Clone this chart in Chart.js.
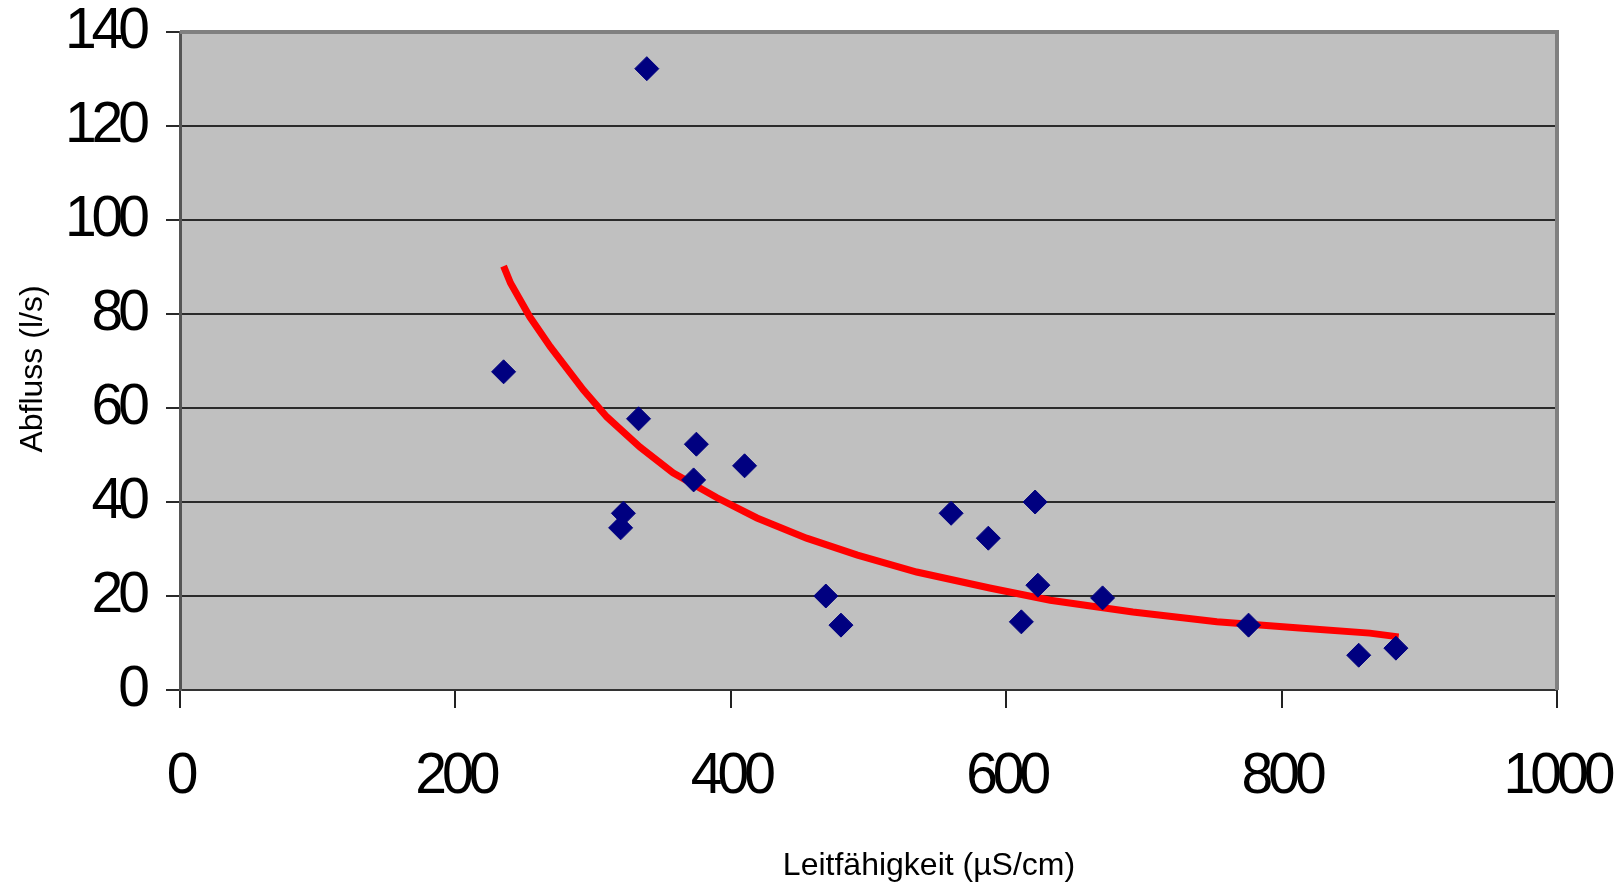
<!DOCTYPE html>
<html>
<head>
<meta charset="utf-8">
<script src="https://cdn.jsdelivr.net/npm/chart.js@4/dist/chart.umd.min.js"></script>
<style>
  html, body { margin: 0; padding: 0; background: #fff; }
  #wrap { width: 1623px; height: 886px; position: relative; }
</style>
</head>
<body>
<div id="wrap"><canvas id="c"></canvas></div>
<script>
// Messwerte: Leitfähigkeit (µS/cm) gegen Abfluss (l/s)
const leitfaehigkeit = [235, 339, 333, 322, 320, 375, 373, 410, 469, 480, 560, 587, 621, 623, 611, 670, 776, 856, 883];
const abfluss = [67.7, 132.2, 57.7, 37.6, 34.5, 52.3, 44.7, 47.7, 20.0, 13.8, 37.6, 32.3, 40.0, 22.3, 14.5, 19.6, 13.8, 7.4, 8.9];

// Trendlinie (Potenz)
const trendX = [235, 240, 254, 269, 293, 310, 334, 358, 390, 419, 455, 492, 535, 588, 632, 692, 753, 813, 864, 885];
const trendY = [90.2, 86.6, 79.4, 73.0, 63.8, 58.1, 51.7, 46.2, 40.9, 36.6, 32.3, 28.7, 25.1, 21.7, 19.1, 16.6, 14.5, 13.2, 12.1, 11.3];

const xTicks = [0, 200, 400, 600, 800, 1000];
const yTicks = [0, 20, 40, 60, 80, 100, 120, 140];

const tickFont = "'Liberation Sans', Arial, sans-serif";
const textFont = "'Liberation Sans', Arial, sans-serif";

const points = leitfaehigkeit.map((x, i) => ({ x, y: abfluss[i] }));
const trend = trendX.map((x, i) => ({ x, y: trendY[i] }));

function noPad(s) {
  s.paddingTop = 0; s.paddingBottom = 0; s.paddingLeft = 0; s.paddingRight = 0;
}

// grauer Plotbereich + Rahmen oben/rechts, Achsentitel
const plotArea = {
  id: 'plotArea',
  beforeDraw(chart) {
    const { ctx, chartArea: a } = chart;
    ctx.save();
    ctx.fillStyle = '#c0c0c0';
    ctx.fillRect(a.left, a.top, a.right - a.left, a.bottom - a.top);
    ctx.restore();
    // schmale Achsenschrift (wie Arial Narrow)
    ctx.letterSpacing = '-5px';
  },
  beforeDatasetsDraw(chart) {
    const { ctx, chartArea: a } = chart;
    ctx.save();
    ctx.strokeStyle = '#808080';
    ctx.lineWidth = 4;
    ctx.beginPath();
    ctx.moveTo(a.left, a.top);
    ctx.lineTo(a.right, a.top);
    ctx.lineTo(a.right, a.bottom);
    ctx.stroke();
    ctx.restore();
  },
  afterDraw(chart) {
    const { ctx } = chart;
    ctx.letterSpacing = '0px';
    ctx.save();
    ctx.fillStyle = '#000';
    ctx.font = '32px ' + textFont;
    ctx.textAlign = 'center';
    ctx.textBaseline = 'middle';
    ctx.fillText('Leitfähigkeit (µS/cm)', 929, 866);
    ctx.translate(33, 369);
    ctx.rotate(-Math.PI / 2);
    ctx.fillText('Abfluss (l/s)', 0, 0);
    ctx.restore();
  }
};

new Chart(document.getElementById('c'), {
  type: 'scatter',
  data: {
    datasets: [
      {
        label: 'Abfluss',
        data: points,
        pointStyle: 'rectRot',
        pointRadius: 12,
        backgroundColor: '#000080',
        borderColor: '#000080',
        borderWidth: 1,
        showLine: false
      },
      {
        label: 'Trend',
        type: 'line',
        data: trend,
        borderColor: '#ff0000',
        borderWidth: 7,
        pointRadius: 0,
        tension: 0,
        fill: false
      }
    ]
  },
  options: {
    responsive: true,
    maintainAspectRatio: false,
    devicePixelRatio: 1,
    animation: false,
    layout: { padding: { top: 32, right: 66, left: 0, bottom: 0 } },
    plugins: { legend: { display: false }, tooltip: { enabled: false } },
    scales: {
      x: {
        type: 'linear',
        min: 0, max: 1000,
        afterFit(s) { s.height = 196; noPad(s); },
        afterBuildTicks(s) { s.ticks = xTicks.map(v => ({ value: v })); },
        grid: { drawOnChartArea: false, drawTicks: true, tickLength: 18, color: '#222', lineWidth: 2 },
        border: { display: true, color: '#333', width: 2 },
        ticks: { color: '#000', padding: 35, maxRotation: 0, callback: v => String(v),
                 font: { family: tickFont, size: 57, lineHeight: 1.2 } }
      },
      y: {
        type: 'linear',
        min: 0, max: 140,
        afterFit(s) { s.width = 180; noPad(s); },
        afterBuildTicks(s) { s.ticks = yTicks.map(v => ({ value: v })); },
        grid: { drawTicks: true, tickLength: 14, color: '#2a2a2a', lineWidth: 2 },
        border: { display: true, color: '#555', width: 3 },
        ticks: { color: '#000', padding: 21, callback: v => String(v),
                 font: { family: tickFont, size: 57, lineHeight: 1.2 } }
      }
    }
  },
  plugins: [plotArea]
});
</script>
</body>
</html>
